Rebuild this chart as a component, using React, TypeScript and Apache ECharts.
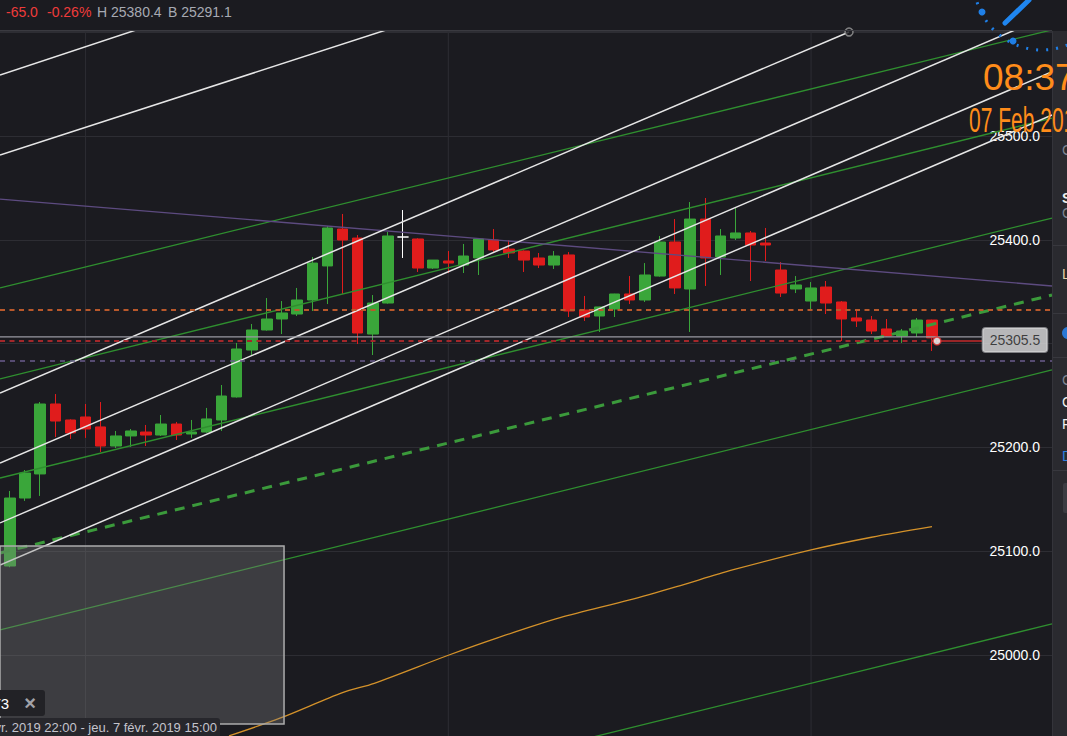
import React, { useEffect, useRef } from "react";
import * as echarts from "echarts";

// ---------- data ----------
const OPEN = [25085.7, 25151.2, 25174.4, 25241.8, 25226.4, 25229.3, 25219.7, 25201.3, 25211.0, 25214.8,
  25211.9, 25222.5, 25212.9, 25214.8, 25226.4, 25248.6, 25293.8, 25313.1, 25323.7, 25328.5,
  25342.0, 25374.8, 25410.4, 25401.7, 25309.2, 25339.1, 25402.7, 25400.8, 25372.8, 25379.6,
  25375.7, 25382.5, 25399.8, 25391.1, 25389.2, 25382.5, 25375.7, 25385.4, 25332.4, 25326.6,
  25333.3, 25347.8, 25342.0, 25365.1, 25397.9, 25352.6, 25420.0, 25383.4, 25401.7, 25406.6,
  25396.9, 25370.9, 25352.6, 25341.0, 25354.5, 25340.1, 25324.7, 25322.7, 25314.1, 25307.3,
  25310.2, 25322.7];
const CLOSE = [25151.2, 25175.3, 25241.8, 25225.4, 25213.9, 25217.7, 25201.3, 25211.0, 25215.8, 25211.9,
  25222.5, 25211.9, 25214.8, 25227.4, 25249.5, 25294.8, 25313.1, 25323.7, 25329.5, 25342.0,
  25377.6, 25411.4, 25399.8, 25310.2, 25339.1, 25403.7, 25402.7, 25372.8, 25380.5, 25377.6,
  25384.4, 25400.8, 25390.2, 25387.3, 25380.5, 25375.7, 25384.4, 25331.4, 25325.6, 25335.3,
  25347.8, 25342.0, 25366.1, 25397.9, 25353.6, 25420.0, 25382.5, 25403.7, 25406.6, 25395.0,
  25395.0, 25348.7, 25356.5, 25353.6, 25339.1, 25323.7, 25321.8, 25312.1, 25307.3, 25312.1,
  25322.7, 25305.5];
const LOW = [25084.5, 25148.4, 25153.2, 25210.0, 25208.1, 25209.1, 25195.6, 25199.4, 25200.4, 25201.3,
  25211.0, 25207.1, 25209.1, 25214.0, 25215.8, 25248.0, 25288.1, 25312.5, 25309.2, 25326.6,
  25331.4, 25338.1, 25347.8, 25299.6, 25289.0, 25338.5, 25382.5, 25369.0, 25371.9, 25368.0,
  25368.0, 25366.1, 25388.2, 25382.5, 25369.0, 25372.8, 25371.9, 25325.6, 25321.8, 25311.2,
  25325.6, 25338.1, 25340.1, 25364.5, 25347.8, 25311.2, 25355.5, 25366.1, 25399.8, 25360.3,
  25379.6, 25344.9, 25348.7, 25333.3, 25328.5, 25302.5, 25316.0, 25309.2, 25307.0, 25300.6,
  25306.4, 25292.9];
const HIGH = [25158.0, 25178.2, 25243.7, 25251.4, 25227.0, 25241.8, 25243.7, 25215.8, 25217.7, 25221.6,
  25231.2, 25224.5, 25226.4, 25238.0, 25260.1, 25300.6, 25318.9, 25343.9, 25341.0, 25353.6,
  25383.4, 25413.3, 25424.9, 25404.6, 25346.8, 25407.5, 25428.7, 25401.5, 25380.5, 25389.2,
  25396.0, 25401.7, 25410.4, 25399.8, 25389.8, 25387.3, 25389.2, 25388.2, 25345.9, 25335.5,
  25348.0, 25365.1, 25377.6, 25403.7, 25420.0, 25436.4, 25440.3, 25410.4, 25430.6, 25408.5,
  25411.4, 25378.6, 25365.1, 25359.3, 25360.3, 25341.0, 25331.4, 25326.6, 25323.7, 25314.1,
  25324.7, 25323.0];
const HIGHLIGHT_CANDLE = 26;

const MA_LINE = [[14.49, 24922.0], [17.9, 24939.3], [22.0, 24963.7], [24.1, 24972.7], [29.0, 24999.7],
  [32.3, 25016.7], [36.4, 25035.9], [41.0, 25053.0], [44.1, 25065.8], [47.8, 25081.9],
  [53.0, 25101.2], [57.0, 25113.4], [61.0, 25123.6]];

const WHITE_LINES = [
  [[-0.66, 25558.8], [9.26, 25606.6]],
  [[-0.66, 25481.7], [25.8, 25606.5]],
  [[-0.66, 25252.4], [55.51, 25600.2]],
  [[-0.66, 25185.0], [66.82, 25604.2]],
  [[-0.66, 25127.2], [68.94, 25561.9]],
  [[-0.66, 25086.7], [68.94, 25520.2]],
];
const GREEN_LINES = [
  [[-0.66, 25353.6], [68.94, 25602.3]],
  [[-0.66, 25265.9], [68.94, 25517.3]],
  [[-0.66, 25170.5], [68.94, 25421.0]],
  [[-0.66, 25024.1], [68.94, 25274.6]],
  [[37.51, 24917.1], [68.94, 25029.9]],
];
const GREEN_DASHED = [[-0.66, 25098.3], [68.94, 25346.8]];
const PURPLE_LINE = [[-0.66, 25439.3], [68.94, 25355.5]];
const W3_END = [55.51, 25600.2];

const ORANGE_LEVEL = 25332.4;
const ASK_LEVEL = 25306.4;
const BID_LEVEL = 25302.5;
const PURPLE_LEVEL = 25283.2;
const LAST_PRICE = 25305.5;
const BID_MARK_X = 61.33;
const TAG_X = 66.49;
const TAG_LEFT_X = 64.31;

const BOX = [[-0.8, 25105.0], [18.13, 24933.5]];
const X_GRID = [5, 29, 53];
const Y_LABELS = [25000, 25100, 25200, 25400, 25500];
const X_MIN = -0.6616, X_MAX = 68.94;
const Y_MIN = 24921.9, Y_MAX = 25601.2;

const HEADER = [
  { text: "-65.0", color: "#ef3b3b" },
  { text: "-0.26%", color: "#ef3b3b" },
  { text: "H 25380.4", color: "#a7aab3" },
  { text: "B 25291.1", color: "#a7aab3" },
];

// ---------- styles ----------
const BG = "#1b1b20";
const GRID = "#2d2d33";
const UP = "#3aa63a";
const DOWN = "#e01c1c";
const FONT = '"Liberation Sans", Arial, sans-serif';

const seg = (data: any, color: string, width: number, type: any = "solid", z = 3, extra: any = {}) => ({
  type: "line",
  data,
  symbol: "none",
  silent: true,
  animation: false,
  lineStyle: { color, width, type },
  z,
  ...extra,
});

function buildOption() {
  const candles = OPEN.map((o, i) => {
    const v = [i, o, CLOSE[i], LOW[i], HIGH[i]];
    if (i === HIGHLIGHT_CANDLE) {
      return {
        value: v,
        itemStyle: { color: "#ffffff", color0: "#ffffff", borderColor: "#ffffff", borderColor0: "#ffffff", borderColorDoji: "#ffffff" },
      };
    }
    return v;
  });

  const series: any[] = [];
  X_GRID.forEach((x) => series.push(seg([[x, Y_MIN], [x, Y_MAX]], GRID, 1, "solid", 0)));
  series.push(seg(MA_LINE, "#d4922a", 1.3, "solid", 1, { smooth: 0.3 }));
  series.push({
    type: "candlestick",
    data: candles,
    barWidth: 11,
    z: 2,
    silent: true,
    itemStyle: { color: UP, color0: DOWN, borderColor: UP, borderColor0: DOWN, borderColorDoji: DOWN, borderWidth: 1 },
  });
  GREEN_LINES.forEach((d) => series.push(seg(d, "#2f8f2f", 1.3)));
  series.push(seg(GREEN_DASHED, "#3b9a3b", 3, [10, 8]));
  series.push(seg(PURPLE_LINE, "#5d4b80", 1.3));
  WHITE_LINES.forEach((d) => series.push(seg(d, "#e6e6e6", 1.5)));
  series.push(seg([[X_MIN, ORANGE_LEVEL], [X_MAX, ORANGE_LEVEL]], "#b9582b", 2, [5, 4.5]));
  series.push(seg([[X_MIN, PURPLE_LEVEL], [X_MAX, PURPLE_LEVEL]], "#6b5c8c", 1.6, [5, 5]));
  series.push(seg([[X_MIN, ASK_LEVEL], [TAG_LEFT_X, ASK_LEVEL]], "#9a9aa2", 1.2));
  series.push(seg([[X_MIN, BID_LEVEL], [BID_MARK_X, BID_LEVEL]], "#a3272a", 2, [5, 4.5]));
  series.push(seg([[BID_MARK_X, BID_LEVEL], [TAG_LEFT_X, BID_LEVEL]], "#c52a2a", 1.5));
  // translucent selection box
  series.push({
    type: "line",
    data: [],
    silent: true,
    z: 5,
    markArea: {
      silent: true,
      z: 10,
      itemStyle: { color: "rgba(128,128,128,0.34)", borderColor: "#acacac", borderWidth: 1.5 },
      data: [[{ coord: BOX[0] }, { coord: BOX[1] }]],
    },
  });
  // end ring of drawing line
  series.push({
    type: "scatter",
    data: [W3_END],
    symbol: "circle",
    symbolSize: 8,
    clip: false,
    silent: true,
    z: 6,
    itemStyle: { color: BG, borderColor: "#9a9a9a", borderWidth: 1.5 },
  });
  // bid marker dot
  series.push({
    type: "scatter",
    data: [[BID_MARK_X, BID_LEVEL]],
    symbol: "circle",
    symbolSize: 8,
    silent: true,
    z: 6,
    itemStyle: { color: "#ffffff", borderColor: "#d42a2a", borderWidth: 1.5 },
  });
  // last price tag
  series.push({
    type: "scatter",
    data: [[TAG_X, LAST_PRICE]],
    symbolSize: 0,
    silent: true,
    z: 7,
    label: {
      show: true,
      position: "inside",
      offset: [0, 2],
      formatter: (p: any) => p.value[1].toFixed(1),
      backgroundColor: "#dedee0",
      borderColor: "#9a9a9e",
      borderWidth: 1,
      borderRadius: 3,
      padding: [5, 7, 5, 7],
      color: "#1c1c1c",
      fontSize: 14,
      fontFamily: FONT,
    },
  });

  const graphic: any[] = [];
  // header
  let hx = 6;
  const hxs = [6, 47, 97, 168];
  HEADER.forEach((h, i) => {
    hx = hxs[i];
    graphic.push({
      type: "text", x: hx, y: 12, z: 100, silent: true,
      style: { text: h.text, fill: h.color, fontSize: 14, fontFamily: FONT, verticalAlign: "middle", align: "left" },
    });
  });
  graphic.push({ type: "line", z: 100, silent: true, shape: { x1: 0, y1: 30.5, x2: 1052, y2: 30.5 }, style: { stroke: "#3a3a40", lineWidth: 1 } });
  // right side panel
  graphic.push({ type: "rect", z: 50, silent: true, shape: { x: 1052, y: 31, width: 15, height: 705 }, style: { fill: "#2a2a2f" } });
  graphic.push({ type: "line", z: 51, silent: true, shape: { x1: 1052.5, y1: 31, x2: 1052.5, y2: 736 }, style: { stroke: "#34343a", lineWidth: 1 } });
  [245, 313, 357, 470].forEach((y) =>
    graphic.push({ type: "line", z: 51, silent: true, shape: { x1: 1053, y1: y + 0.5, x2: 1067, y2: y + 0.5 }, style: { stroke: "#38383e", lineWidth: 1 } })
  );
  graphic.push({ type: "rect", z: 51, silent: true, shape: { x: 1063, y: 483, width: 6, height: 30, r: 2 }, style: { fill: "#3c3c42" } });
  const panelTexts = [
    { t: "C", y: 150, c: "#7f8494", w: "normal" },
    { t: "S", y: 198, c: "#f0f0f0", w: "bold" },
    { t: "C", y: 213, c: "#7f8494", w: "normal" },
    { t: "L", y: 274, c: "#e6d3a8", w: "normal" },
    { t: "C", y: 380, c: "#7f8494", w: "normal" },
    { t: "C", y: 402, c: "#f0f0f0", w: "normal" },
    { t: "F", y: 424, c: "#f0f0f0", w: "normal" },
    { t: "D", y: 456, c: "#2f7fe0", w: "normal" },
  ];
  panelTexts.forEach((p) =>
    graphic.push({
      type: "text", x: 1062, y: p.y, z: 52, silent: true,
      style: { text: p.t, fill: p.c, fontSize: 14, fontWeight: p.w, fontFamily: FONT, verticalAlign: "middle", align: "left" },
    })
  );
  graphic.push({ type: "circle", z: 52, silent: true, shape: { cx: 1068, cy: 333, r: 6 }, style: { fill: "#2a78d6" } });

  // clock overlay
  graphic.push({
    type: "arc", z: 110, silent: true,
    shape: { cx: 1042, cy: -18, r: 68, startAngle: (68 * Math.PI) / 180, endAngle: (165 * Math.PI) / 180, clockwise: true },
    style: { stroke: "#1f7fe6", lineWidth: 3, lineDash: [2, 8], fill: null },
  });
  graphic.push({ type: "circle", z: 110, silent: true, shape: { cx: 982, cy: 12, r: 3.5 }, style: { fill: "#1f7fe6" } });
  graphic.push({ type: "circle", z: 110, silent: true, shape: { cx: 1013, cy: 41, r: 3.5 }, style: { fill: "#1f7fe6" } });
  graphic.push({ type: "line", z: 110, silent: true, shape: { x1: 1005, y1: 23, x2: 1029, y2: 0 }, style: { stroke: "#1f86f0", lineWidth: 5, lineCap: "round" } });
  graphic.push({
    type: "text", x: 983, y: 77, z: 110, silent: true,
    style: { text: "08:37", fill: "#ff8c1a", fontSize: 37, fontFamily: FONT, verticalAlign: "middle", align: "left" },
  });
  graphic.push({
    type: "text", x: 969, y: 120, z: 110, scaleX: 0.6, silent: true,
    style: { text: "07 Feb 2019", fill: "#ff8c1a", fontSize: 35, fontFamily: FONT, verticalAlign: "middle", align: "left" },
  });

  // bottom-left UI
  graphic.push({ type: "rect", z: 100, silent: true, shape: { x: -4, y: 690, width: 49, height: 26, r: 3 }, style: { fill: "#222226" } });
  graphic.push({
    type: "text", x: 9, y: 703, z: 101, silent: true,
    style: { text: "T3", fill: "#ffffff", fontSize: 15, fontFamily: FONT, verticalAlign: "middle", align: "right" },
  });
  graphic.push({
    type: "text", x: 30, y: 703, z: 101, silent: true,
    style: { text: "×", fill: "#a2a2a8", fontSize: 20, fontWeight: "bold", fontFamily: FONT, verticalAlign: "middle", align: "center" },
  });
  graphic.push({ type: "rect", z: 100, silent: true, shape: { x: -4, y: 718, width: 224, height: 22, r: 3 }, style: { fill: "#27272c" } });
  graphic.push({
    type: "text", x: 217, y: 727, z: 101, silent: true,
    style: { text: "mer. 6 févr. 2019 22:00 - jeu. 7 févr. 2019 15:00", fill: "#c4c4cc", fontSize: 13, fontFamily: FONT, verticalAlign: "middle", align: "right" },
  });

  return {
    animation: false,
    backgroundColor: BG,
    grid: { left: 0, right: 15, top: 31, bottom: 0, containLabel: false },
    xAxis: { type: "value", min: X_MIN, max: X_MAX, show: false },
    yAxis: {
      type: "value",
      position: "right",
      min: Y_MIN,
      max: Y_MAX,
      splitNumber: 7,
      axisLine: { show: false },
      axisTick: { show: false },
      splitLine: { show: true, lineStyle: { color: GRID, width: 1 } },
      axisLabel: {
        inside: true,
        margin: 12,
        color: "#ffffff",
        fontSize: 14,
        fontFamily: FONT,
        formatter: (v: number) => (Y_LABELS.indexOf(Math.round(v)) >= 0 && Math.abs(v - Math.round(v)) < 1e-6 ? v.toFixed(1) : ""),
      },
    },
    series,
    graphic,
  };
}

export default function App() {
  const ref = useRef<HTMLDivElement>(null);
  useEffect(() => {
    document.body.style.margin = "0";
    const chart = echarts.init(ref.current as HTMLDivElement, null, { renderer: "svg", width: 1067, height: 736 });
    chart.setOption(buildOption() as any);
    return () => chart.dispose();
  }, []);
  return <div ref={ref} style={{ position: "fixed", left: 0, top: 0, width: 1067, height: 736, background: BG }} />;
}
